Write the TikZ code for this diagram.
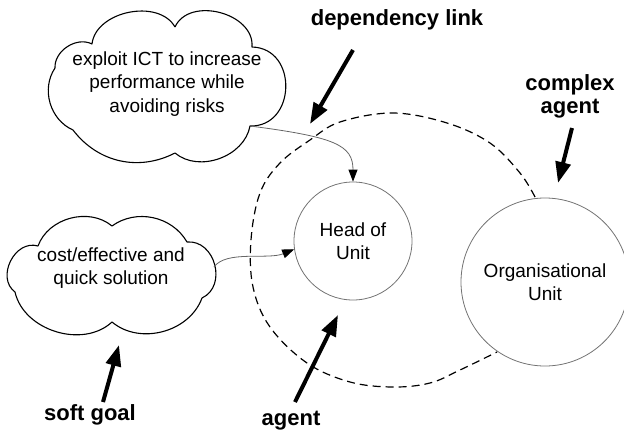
\documentclass[tikz,border=0pt]{standalone}
\usepackage{fontspec}
\setmainfont{Liberation Sans}
\usetikzlibrary{arrows.meta}
\begin{document}
\begin{tikzpicture}[x=1pt,y=-1pt,
  txt/.style={font=\fontsize{19}{23.5}\selectfont, align=center, inner sep=0},
  lbl/.style={font=\fontsize{22}{23}\selectfont\bfseries, align=center, inner sep=0},
  cloudline/.style={draw=black, line width=1.1pt, line join=round},
  agentc/.style={circle, draw=black!55, line width=0.8pt, inner sep=0, txt},
  bigarrow/.style={line width=4pt, -{Triangle[length=21pt,width=15pt]}},
  deplink/.style={draw=black!60, line width=0.8pt, -{Triangle[length=12pt,width=9pt,color=black]}}
]
\useasboundingbox (0,0) rectangle (624,434);
% complex agent boundary
\draw[dashed, dash pattern=on 8pt off 5pt, line width=1.2pt] plot[smooth, tension=0.6] coordinates {
 (535,197) (520,173) (490,143) (447,123) (393,113) (340,122) (310,140) (280,163)
 (260,193) (251,240) (253,287) (270,327) (307,363) (350,382) (393,387) (430,383)
 (460,370) (497,352)};
% agents
\node[agentc, minimum size=118pt] (head) at (353,241) {Head of\\Unit};
\node[agentc, minimum size=168pt] (org) at (545,282) {Organisational\\Unit};
% soft goal 1 (cloud)
\draw[cloudline] (175,27) to[bend right=72] (92,44) to[bend right=60] (55,68)
  to[bend right=50] (73,130) to[bend right=40] (175,153) to[bend right=60] (250,126)
  to[bend right=90, looseness=1.5] (252,47) to[bend right=80, looseness=1.1] (175,27);
\node[txt] (t1) at (167,84) {exploit ICT to increase\\performance while\\avoiding risks};
% soft goal 2 (cloud)
\draw[cloudline] (112,226) to[bend right=55] (38,246) to[bend right=80, looseness=1.2] (15,292)
  to[bend right=60] (112,322) to[bend right=55] (202,298)
  to[bend right=80, looseness=1.25] (187,242) to[bend right=48] (112,226);
\node[txt] (t2) at (111,268) {cost/effective and\\quick solution};
\coordinate (c1out) at (250,126);
\coordinate (c2out) at (214,267);
% dependency links
\draw[deplink] (c1out) .. controls (335,137) and (353,145) .. (head.north);
\draw[deplink] (c2out) .. controls (226,250) and (268,260) .. (head.188);
% labels
\node[lbl] (ldep) at (397,20) {dependency link};
\node[lbl] (lcomp) at (570,96) {complex\\agent};
\node[lbl] (lsoft) at (90,415) {soft goal};
\node[lbl] (lagent) at (291,421) {agent};
% pointer arrows
\coordinate (depT) at (353,50);  \coordinate (depH) at (310,124);
\coordinate (compT) at (572,128); \coordinate (compH) at (558,183);
\coordinate (softT) at (103,402); \coordinate (softH) at (119,345);
\coordinate (agT) at (295,402);   \coordinate (agH) at (338,315);
\draw[bigarrow] (depT) -- (depH);
\draw[bigarrow] (compT) -- (compH);
\draw[bigarrow] (softT) -- (softH);
\draw[bigarrow] (agT) -- (agH);
\end{tikzpicture}
\end{document}
